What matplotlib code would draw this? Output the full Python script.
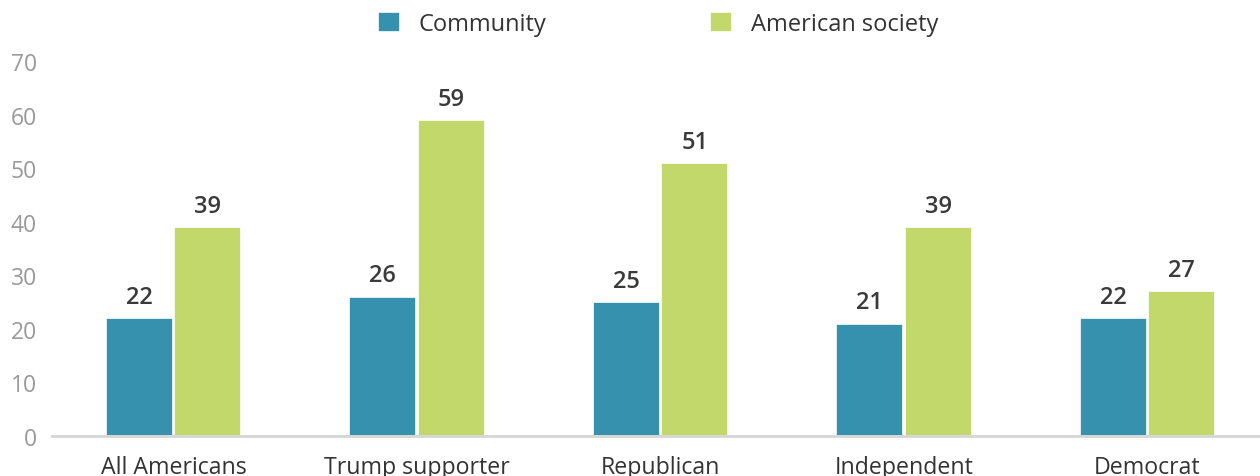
import numpy as np
import matplotlib
matplotlib.use("Agg")
from matplotlib import pyplot as plt

groups = ["All Americans", "Trump supporter", "Republican", "Independent", "Democrat"]
community = [22, 26, 25, 21, 22]
society = [39, 59, 51, 39, 27]
yticks = [0, 10, 20, 30, 40, 50, 60, 70]

blue = "#3591ae"
green = "#c2d86a"

plt.rcParams["font.family"] = ["Open Sans", "DejaVu Sans"]

fig = plt.figure(figsize=(12.6, 4.77), dpi=100)
ax = fig.add_axes([52 / 1260, 40 / 477, 1 - 52 / 1260, 375 / 477])

x = np.arange(len(groups))
w = 0.275
b1 = ax.bar(x - w / 2 - 0.003, community, w, color=blue, edgecolor="white", linewidth=1.2, label="Community")
b2 = ax.bar(x + w / 2 + 0.003, society, w, color=green, edgecolor="white", linewidth=1.2, label="American society")

# value labels over each bar
for bars, vals in ((b1, community), (b2, society)):
    for r, v in zip(bars, vals):
        ax.annotate(str(v), (r.get_x() + r.get_width() / 2, v), xytext=(0, 11),
                    textcoords="offset points", ha="center", va="baseline",
                    fontsize=17, fontweight=600, color="#3a3a3a")

ax.set_xlim(-0.5, -0.5 + (1260 - 52) / 243.4)
ax.set_ylim(0, 70)
ax.set_yticks(yticks)
ax.set_xticks(x)
ax.set_xticklabels(groups)
ax.tick_params(axis="y", length=0, pad=11, labelsize=16.5, labelcolor="#999999")
ax.tick_params(axis="x", length=0, pad=14, labelsize=16.7, labelcolor="#333333")

for s in ["top", "right", "left"]:
    ax.spines[s].set_visible(False)
ax.spines["bottom"].set_color("#d5d5d5")
ax.spines["bottom"].set_linewidth(2)

fig.legend(handles=[b1, b2], loc="center", bbox_to_anchor=(658 / 1260, 1 - 25 / 477),
           ncol=2, frameon=False, fontsize=17, handlelength=0.95, handleheight=0.95,
           handletextpad=0.8, columnspacing=6.9, labelcolor="#333333")

fig.savefig("out.png", dpi=100)
